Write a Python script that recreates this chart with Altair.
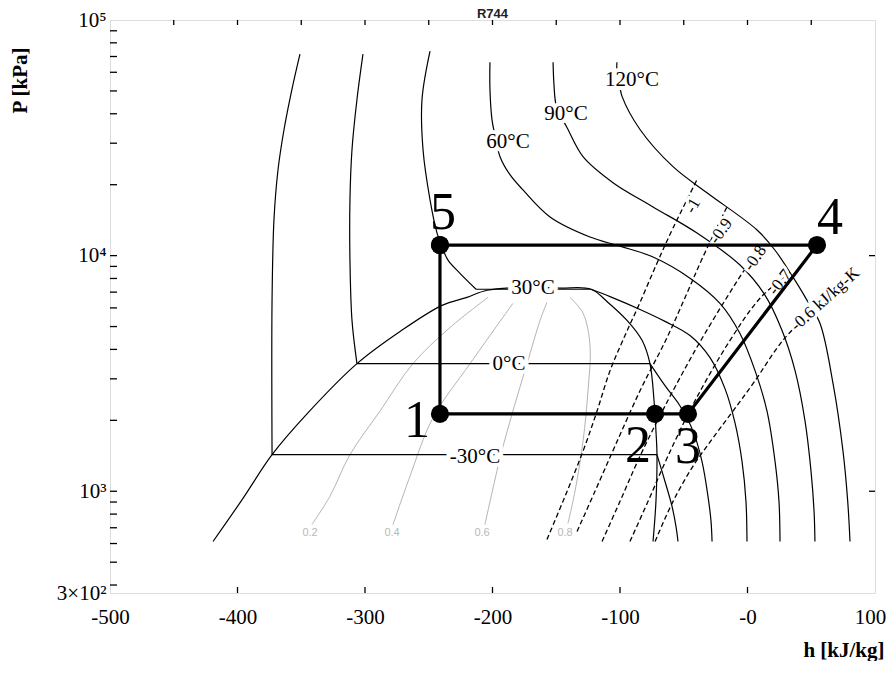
import altair as alt
import pandas as pd

# ---------------- data (h in kJ/kg, P in kPa) ----------------
# saturation dome (liquid branch -> critical point -> vapour branch)
dome_h = [-419.2, -395.7, -372.9, -345.5, -306.3, -272.5, -239.6, -220.0, -204.3, -172.2,
          -147.1, -122.7, -109.4, -94.5, -82.7, -76.5, -73.3, -71.8, -71.0, -71.8, -74.1]
dome_P = [612, 933, 1430, 2130, 3480, 4764, 6150, 6650, 7130, 7350,
          7280, 7200, 6330, 5310, 4370, 3480, 2420, 1800, 1430, 906, 612]

# isotherms: liquid / two-phase / vapour segments
t_m30_liq_h = [-351.0, -357.3, -363.5, -368.2, -371.4, -372.9, -372.9]
t_m30_liq_P = [71600, 50800, 34300, 23200, 14200, 6460, 1430]
t_m30_tp_h = [-372.9, -71.0]
t_m30_tp_P = [1430, 1430]
t_m30_vap_h = [-71.0, -64.7, -59.2, -56.1, -54.5]
t_m30_vap_P = [1430, 1100, 863, 710, 612]

t_0_liq_h = [-301.6, -306.3, -310.2, -311.8, -311.8, -310.2, -306.3]
t_0_liq_P = [71600, 46000, 28200, 17260, 9570, 5310, 3480]
t_0_tp_h = [-306.3, -76.5]
t_0_tp_P = [3480, 3480]
t_0_vap_h = [-76.5, -64.7, -52.9, -42.7, -35.7, -31.0, -28.6, -27.8]
t_0_vap_P = [3480, 2805, 2300, 1800, 1340, 952, 745, 612]

t_30_liq_h = [-249.0, -255.3, -254.5, -249.0, -243.5, -239.6, -234.9, -225.5, -212.9]
t_30_liq_P = [73800, 46000, 28200, 17260, 12470, 10870, 9570, 8410, 7200]
t_30_tp_h = [-212.9, -122.7]
t_30_tp_P = [7200, 7200]
t_30_vap_h = [-122.7, -107.8, -84.3, -64.7, -45.1, -29.4, -17.6, -9.8, -4.3, -1.2, -0.4]
t_30_vap_P = [7200, 6700, 5910, 5260, 4580, 3690, 2720, 1950, 1340, 906, 612]

t_60_h = [-202.0, -202.0, -200.4, -197.3, -194.1, -186.3, -176.1, -154.9, -123.5, -100.0,
          -74.1, -45.1, -21.6, -5.9, 5.9, 15.3, 21.6, 24.7, 25.5]
t_60_P = [66200, 50800, 37800, 31100, 26300, 22050, 19000, 14600, 12000, 10970,
          9860, 8020, 6270, 4670, 3250, 2190, 1340, 906, 612]

t_90_h = [-152.5, -151.8, -150.2, -146.3, -141.6, -129.0, -105.5, -74.1, -39.6, -5.9,
          13.7, 27.1, 37.3, 45.1, 49.8, 52.2, 52.9]
t_90_P = [66200, 53300, 43800, 39000, 35000, 26300, 20400, 16100, 12470, 9120,
          6800, 4810, 3250, 1990, 1220, 822, 612]

t_120_h = [-102.4, -102.4, -100.0, -98.4, -84.3, -58.4, -31.8, 7.5, 21.6, 35.7,
           46.7, 56.9, 67.1, 74.9, 78.6, 80.4]
t_120_P = [66200, 60700, 51800, 47400, 34300, 23850, 18480, 12850, 10540, 8100,
           6460, 5150, 2860, 1480, 906, 612]

# constant quality lines
x02_h = [-341.6, -327.5, -311.8, -288.2, -262.4, -233.3, -203.5]
x02_P = [723, 952, 1430, 2190, 3480, 4955, 6650]
x04_h = [-278.0, -264.7, -246.7, -217.6, -184.0]
x04_P = [723, 1159, 2050, 3480, 6270]
x06_h = [-205.9, -194.1, -184.0, -172.9, -162.7, -157.3]
x06_P = [723, 1383, 2190, 3480, 5310, 6330]
x08_h = [-140.8, -135.3, -129.0, -125.1, -123.5, -129.0, -139.2]
x08_P = [731, 1000, 1630, 2670, 4150, 5700, 6650]

# isentropes (kJ/kg-K)
s_m10_h = [-157.3, -143.1, -129.0, -118.0, -107.8, -96.1, -84.3, -71.0, -58.4, -39.6]
s_m10_P = [624, 952, 1480, 2190, 3250, 4580, 6330, 9290, 13100, 21000]
s_m09_h = [-133.7, -119.6, -103.9, -84.3, -63.1, -47.5, -35.0, -16.1]
s_m09_P = [675, 1000, 1556, 2670, 4490, 6920, 9860, 16100]
s_m08_h = [-114.1, -100.0, -84.3, -64.7, -41.2, -17.6, 2.0, 15.3]
s_m08_P = [612, 906, 1410, 2300, 3950, 6460, 9380, 11300]
s_m07_h = [-92.2, -78.0, -62.4, -41.2, -13.7, 9.8, 33.3]
s_m07_P = [612, 906, 1410, 2420, 4370, 6590, 8510]
s_m06_h = [-72.5, -58.4, -42.7, -27.1, -11.4, 4.3, 27.8, 50.6]
s_m06_P = [612, 906, 1279, 1683, 2190, 2860, 4370, 5860]

# refrigeration cycle 5-1-2-3-4-5
cycle_names = ["5", "1", "2", "3", "4", "5"]
cycle_h = [-241.2, -241.2, -72.5, -46.7, 54.5, -241.2]
cycle_P = [11090, 2130, 2130, 2130, 11090, 11090]
num_text = ["1", "2", "3", "4", "5"]
num_h = [-259.2, -85.9, -46.7, 64.7, -238.8]
num_P = [1990, 1556, 1542, 14450, 15170]

# labels
chart_title = "R744"
temp_text = ["120°C", "90°C", "60°C", "30°C", "0°C", "-30°C"]
temp_h = [-90.6, -142.4, -187.8, -168.2, -187.1, -213.7]
temp_P = [55450, 40100, 30500, 7260, 3480, 1396]
ent_text = ["-1", "-0.9", "-0.8", "-0.7", "-0.6 kJ/kg-K"]
ent_h = [-42.8, -20.8, 5.9, 25.5, 60.8]
ent_P = [16260, 12700, 9750, 7710, 6520]
ent_angle = [300, 305, 305, 308, 318]
qual_text = ["0.2", "0.4", "0.6", "0.8"]
qual_h = [-343.1, -278.8, -208.2, -143.1]
qual_P = [662, 662, 662, 662]

# axis ticks / labels
x_label_vals = [-500, -400, -300, -200, -100, 0, 100]
x_bottom_ticks = [-400, -300, -200, -100, 0]
x_top_ticks = [-450, -400, -350, -300, -250, -200, -150, -100, -50, 0, 50]
y_label_vals = [370, 1000, 10000, 100000]
y_left_ticks = [400, 500, 600, 700, 800, 900, 1000, 2000, 3000, 4000, 5000, 6000, 7000,
                8000, 9000, 10000, 20000, 30000, 40000, 50000, 60000, 70000, 80000, 90000]
y_right_ticks = [1000, 10000]

# ---------------- chart ----------------
W, H = 765, 573
SERIF = "Liberation Serif"


def seg(name, hs, Ps):
    return pd.DataFrame({"name": name, "i": list(range(len(hs))), "h": hs, "P": Ps})


x_axis = alt.Axis(
    values=x_label_vals,
    labelExpr="datum.value == 0 ? '-0' : (datum.value < 0 ? '-' + abs(datum.value) : '' + datum.value)",
    labelFont=SERIF, labelFontSize=21, labelColor="black", labelPadding=13,
    labelOffset={"expr": "datum.value == 100 ? -5 : 0"},
    labelFlush=False, labelOverlap=False, ticks=False, domain=False, grid=False,
    title="h [kJ/kg]", titleFont=SERIF, titleFontSize=21, titleFontWeight="bold",
    titleColor="black", titleX=774, titleY=57, titleAlign="right", titleBaseline="middle",
)
y_axis = alt.Axis(
    values=y_label_vals,
    labelExpr="datum.value < 500 ? '3×10²' : (datum.value < 5000 ? '10³' : (datum.value < 50000 ? '10⁴' : '10⁵'))",
    labelFont=SERIF, labelFontSize=21, labelColor="black", labelPadding=4,
    labelOverlap=False, labelFlush=False, ticks=False, domain=False, grid=False,
    title="P [kPa]", titleFont=SERIF, titleFontSize=21, titleFontWeight="bold",
    titleColor="black", titleAngle=270, titleX=-90, titleY=60, titleAlign="center",
    titleBaseline="middle",
)
X = alt.X("h:Q", scale=alt.Scale(domain=[-500, 100], nice=False, zero=False), axis=x_axis)
Y = alt.Y("P:Q", scale=alt.Scale(type="log", domain=[370, 100000], nice=False), axis=y_axis)

iso_df = pd.concat([
    seg("dome", dome_h, dome_P),
    seg("m30a", t_m30_liq_h, t_m30_liq_P), seg("m30b", t_m30_tp_h, t_m30_tp_P), seg("m30c", t_m30_vap_h, t_m30_vap_P),
    seg("0a", t_0_liq_h, t_0_liq_P), seg("0b", t_0_tp_h, t_0_tp_P), seg("0c", t_0_vap_h, t_0_vap_P),
    seg("30a", t_30_liq_h, t_30_liq_P), seg("30b", t_30_tp_h, t_30_tp_P), seg("30c", t_30_vap_h, t_30_vap_P),
    seg("60", t_60_h, t_60_P), seg("90", t_90_h, t_90_P), seg("120", t_120_h, t_120_P),
])
qual_df = pd.concat([seg("x02", x02_h, x02_P), seg("x04", x04_h, x04_P),
                     seg("x06", x06_h, x06_P), seg("x08", x08_h, x08_P)])
ent_df = pd.concat([seg("s10", s_m10_h, s_m10_P), seg("s09", s_m09_h, s_m09_P),
                    seg("s08", s_m08_h, s_m08_P), seg("s07", s_m07_h, s_m07_P),
                    seg("s06", s_m06_h, s_m06_P)])
cycle_df = pd.DataFrame({"i": list(range(len(cycle_h))), "h": cycle_h, "P": cycle_P, "pt": cycle_names})
num_df = pd.DataFrame({"h": num_h, "P": num_P, "t": num_text})
temp_df = pd.DataFrame({"h": temp_h, "P": temp_P, "t": temp_text})
ent_lab_df = pd.DataFrame({"h": ent_h, "P": ent_P, "t": ent_text, "a": ent_angle})
qual_lab_df = pd.DataFrame({"h": qual_h, "P": qual_P, "t": qual_text})
title_df = pd.DataFrame({"t": [chart_title]})

quality = alt.Chart(qual_df).mark_line(color="#b4b4b4", strokeWidth=1, interpolate="catmull-rom").encode(
    x=X, y=Y, detail="name:N", order="i:Q")
isentropes = alt.Chart(ent_df).mark_line(color="black", strokeWidth=1.3, strokeDash=[5, 3],
                                         interpolate="catmull-rom").encode(
    x=X, y=Y, detail="name:N", order="i:Q")
isotherms = alt.Chart(iso_df).mark_line(color="black", strokeWidth=1.2, interpolate="catmull-rom").encode(
    x=X, y=Y, detail="name:N", order="i:Q")

temp_halo = alt.Chart(temp_df).mark_text(font=SERIF, fontSize=21, stroke="white", strokeWidth=8,
                                         fill="white").encode(x=X, y=Y, text="t:N")
temp_lab = alt.Chart(temp_df).mark_text(font=SERIF, fontSize=21, color="black").encode(x=X, y=Y, text="t:N")
ent_halo = alt.Chart(ent_lab_df).mark_text(font=SERIF, fontSize=17, stroke="white", strokeWidth=6,
                                           fill="white").encode(
    x=X, y=Y, text="t:N", angle=alt.Angle("a:Q", scale=None))
ent_lab = alt.Chart(ent_lab_df).mark_text(font=SERIF, fontSize=17, color="black").encode(
    x=X, y=Y, text="t:N", angle=alt.Angle("a:Q", scale=None))
qual_lab = alt.Chart(qual_lab_df).mark_text(font="Liberation Sans", fontSize=11, color="#b8b8b8").encode(
    x=X, y=Y, text="t:N")

cycle_line = alt.Chart(cycle_df).mark_line(color="black", strokeWidth=3.2).encode(x=X, y=Y, order="i:Q")
cycle_pts = alt.Chart(cycle_df).mark_point(filled=True, color="black", size=330, opacity=1).encode(x=X, y=Y)
num_lab = alt.Chart(num_df).mark_text(font=SERIF, fontSize=52, color="black").encode(x=X, y=Y, text="t:N")

title_mark = alt.Chart(title_df).mark_text(font="Liberation Sans", fontSize=13, fontWeight="bold",
                                           color="#222222", baseline="bottom").encode(
    x=alt.value(W / 2), y=alt.value(1), text="t:N")

tick_style = dict(color="black", strokeWidth=1.3)
t_bottom = alt.Chart(pd.DataFrame({"h": x_bottom_ticks})).mark_rule(**tick_style).encode(
    x=X, y=alt.value(H), y2=alt.value(H - 6))
t_top = alt.Chart(pd.DataFrame({"h": x_top_ticks})).mark_rule(**tick_style).encode(
    x=X, y=alt.value(0), y2=alt.value(5))
t_left = alt.Chart(pd.DataFrame({"P": y_left_ticks})).mark_rule(**tick_style).encode(
    y=Y, x=alt.value(0), x2=alt.value(7))
t_right = alt.Chart(pd.DataFrame({"P": y_right_ticks})).mark_rule(**tick_style).encode(
    y=Y, x=alt.value(W), x2=alt.value(W - 6))

chart = alt.layer(
    quality, isentropes, isotherms, temp_halo, temp_lab, ent_halo, ent_lab, qual_lab,
    cycle_line, cycle_pts, num_lab, t_bottom, t_top, t_left, t_right, title_mark,
).properties(
    width=W, height=H,
    padding={"left": 102, "top": 12, "right": 11, "bottom": 68},
    autosize=alt.AutoSizeParams(type="none"),
).configure_view(stroke="black", strokeWidth=1.6).configure(background="white")

chart.save("out.html", embed_options={"renderer": "svg", "actions": False})
